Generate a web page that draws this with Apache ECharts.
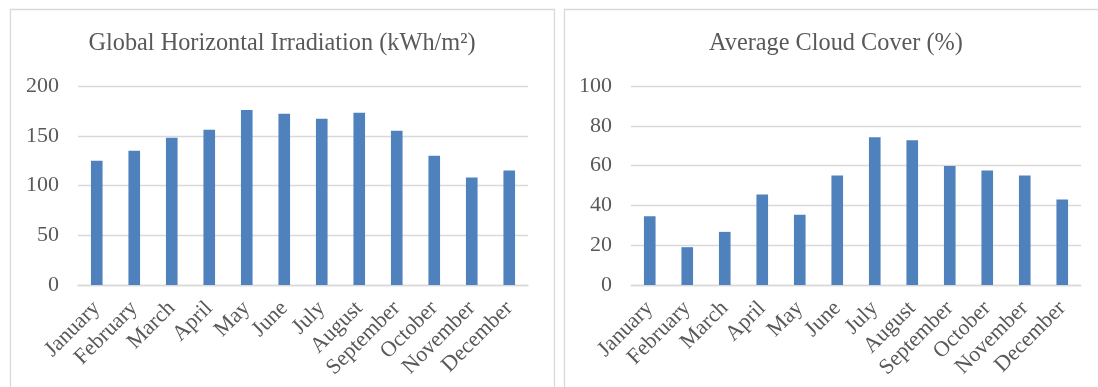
<!DOCTYPE html>
<html>
<head>
<meta charset="utf-8">
<script src="https://cdn.jsdelivr.net/npm/echarts@6/dist/echarts.min.js"></script>
<style>
html,body{margin:0;padding:0;background:#fff;}
#c{width:1098px;height:387px;}
</style>
</head>
<body>
<div id="c"></div>
<script>
const months = ['January','February','March','April','May','June','July','August','September','October','November','December'];
const irradiation = [125, 135, 148, 156, 176, 172, 167, 173, 155, 130, 108, 115];
const cloudCover = [34.5, 19, 26.7, 45.5, 35.3, 55, 74.3, 72.8, 59.8, 57.6, 55, 43];
const titleLeft = 'Global Horizontal Irradiation (kWh/m²)';
const titleRight = 'Average Cloud Cover (%)';

const FONT = '"Liberation Serif", "Times New Roman", serif';
const TXT = '#595959';
const GRID = '#d9d9d9';
const BAR = '#4f81bd';

const chart = echarts.init(document.getElementById('c'), null, {renderer: 'canvas'});

function xAxis(idx) {
  return {
    type: 'category', gridIndex: idx, data: months,
    axisLine: {show: true, lineStyle: {color: GRID, width: 1.3}},
    axisTick: {show: false},
    axisLabel: {rotate: 45, margin: 20, color: TXT, fontFamily: FONT, fontSize: 22, interval: 0}
  };
}
function yAxis(idx, max, interval) {
  return {
    type: 'value', gridIndex: idx, min: 0, max: max, interval: interval,
    axisLine: {show: false}, axisTick: {show: false},
    splitLine: {lineStyle: {color: GRID, width: 1.3}},
    axisLabel: {margin: 19, color: TXT, fontFamily: FONT, fontSize: 22}
  };
}

chart.setOption({
  animation: false,
  title: [
    {text: titleLeft, left: 277, top: 27, textAlign: 'center',
     textStyle: {fontFamily: FONT, fontSize: 24.3, fontWeight: 'normal', color: TXT}},
    {text: titleRight, left: 831, top: 27, textAlign: 'center',
     textStyle: {fontFamily: FONT, fontSize: 24.3, fontWeight: 'normal', color: TXT}}
  ],
  graphic: [
    {type: 'rect', shape: {x: 10.5, y: 9.5, width: 544, height: 420}, style: {fill: 'none', stroke: '#d9d9d9', lineWidth: 1.3}, z: -1},
    {type: 'rect', shape: {x: 564.5, y: 9.5, width: 544, height: 420}, style: {fill: 'none', stroke: '#d9d9d9', lineWidth: 1.3}, z: -1}
  ],
  grid: [
    {left: 78, top: 86, width: 450, height: 199},
    {left: 631, top: 86, width: 450, height: 199}
  ],
  xAxis: [xAxis(0), xAxis(1)],
  yAxis: [yAxis(0, 200, 50), yAxis(1, 100, 20)],
  series: [
    {type: 'bar', xAxisIndex: 0, yAxisIndex: 0, data: irradiation, barWidth: '31%', itemStyle: {color: BAR}},
    {type: 'bar', xAxisIndex: 1, yAxisIndex: 1, data: cloudCover, barWidth: '31%', itemStyle: {color: BAR}}
  ]
});
</script>
</body>
</html>
